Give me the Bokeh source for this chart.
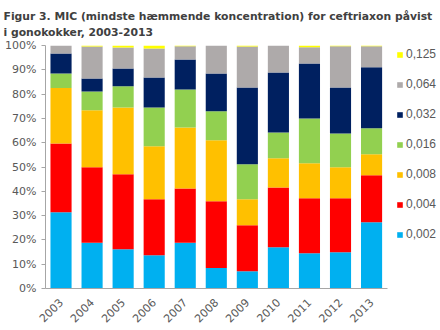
import math
from bokeh.plotting import figure
from bokeh.models import Range1d, NumeralTickFormatter, Legend, LegendItem, Title, FixedTicker
from bokeh.embed import file_html
from bokeh.resources import INLINE

years = ["2003", "2004", "2005", "2006", "2007", "2008", "2009", "2010", "2011", "2012", "2013"]
mic_labels = ["0,002", "0,004", "0,008", "0,016", "0,032", "0,064", "0,125"]
v0002 = [31.4, 18.8, 16.2, 13.7, 18.8, 8.4, 7.1, 17.0, 14.5, 14.9, 27.3]
v0004 = [28.3, 31.1, 30.8, 23.0, 22.4, 27.5, 18.9, 24.6, 22.6, 22.2, 19.3]
v0008 = [22.8, 23.5, 27.5, 21.8, 25.1, 25.1, 10.7, 12.0, 14.4, 12.8, 8.6]
v0016 = [6.0, 7.7, 8.7, 16.0, 15.6, 11.9, 14.4, 10.6, 18.5, 13.9, 10.7]
v0032 = [8.2, 5.3, 7.3, 12.3, 12.3, 15.6, 31.6, 24.7, 22.6, 18.9, 25.1]
v0064 = [3.3, 13.2, 8.7, 12.0, 5.5, 11.5, 16.9, 11.1, 6.7, 17.0, 8.7]
v0125 = [0.0, 0.4, 0.8, 1.2, 0.3, 0.0, 0.4, 0.0, 0.7, 0.3, 0.3]
colors = ["#00B0F0", "#FF0000", "#FFC000", "#92D050", "#002060", "#AEAAAA", "#FFFF00"]
title_text = "Figur 3. MIC (mindste hæmmende koncentration) for ceftriaxon påvist\ni gonokokker, 2003-2013"

series = [v0002, v0004, v0008, v0016, v0032, v0064, v0125]
keys = ["s%d" % i for i in range(len(series))]
xpos = list(range(len(years)))
data = {"x": xpos}
for k, s in zip(keys, series):
    data[k] = [v / 100.0 for v in s]

n = len(years)
p = figure(width=440, height=330, output_backend="svg", toolbar_location=None,
           x_range=Range1d(-0.5, n - 0.5 + 1.72), y_range=Range1d(0, 1))
p.min_border_left = 45
p.min_border_right = 0
p.min_border_top = 45
p.min_border_bottom = 42
p.outline_line_color = None
p.background_fill_color = "white"
p.border_fill_color = "white"

rs = p.vbar_stack(keys, x="x", width=0.68, color=colors, line_color=None, source=data)

p.xgrid.visible = False
p.ygrid.visible = False

p.yaxis.ticker = FixedTicker(ticks=[i / 10 for i in range(11)])
p.yaxis.formatter = NumeralTickFormatter(format="0%")
p.xaxis.ticker = FixedTicker(ticks=xpos)
p.xaxis.major_label_overrides = {i: y for i, y in zip(xpos, years)}
p.xaxis.bounds = (-0.5 - 0.13, n - 0.5)
for ax in (p.xaxis, p.yaxis):
    ax.axis_line_color = "#A6A6A6"
    ax.major_label_text_font = "DejaVu Sans"
    ax.major_label_text_font_size = "11px"
    ax.major_label_text_color = "#595959"
    ax.minor_tick_line_color = None
p.yaxis.major_tick_line_color = "#A6A6A6"
p.yaxis.major_tick_out = 4
p.yaxis.major_tick_in = 0
p.yaxis.major_label_standoff = 5
p.xaxis.major_tick_line_color = None
p.xaxis.major_label_orientation = math.pi / 4
p.xaxis.major_label_standoff = 6

items = [LegendItem(label=lab, renderers=[r]) for lab, r in zip(mic_labels, rs)][::-1]
legend = Legend(items=items, location=(351, 47), orientation="vertical")
legend.margin = 0
legend.padding = 0
legend.border_line_color = None
legend.background_fill_alpha = 0
legend.glyph_width = 7
legend.glyph_height = 7
legend.label_height = 12
legend.spacing = 16
legend.label_standoff = 3
legend.label_text_font = "Liberation Sans"
legend.label_text_font_size = "12px"
legend.label_text_color = "#595959"
p.add_layout(legend, "center")

p.title = Title(text=title_text, align="left", offset=-42,
                text_font="DejaVu Sans", text_font_size="10.8px", text_font_style="bold",
                text_color="#404040", text_line_height=1.25, standoff=13)

open("out.html", "w").write(file_html(p, INLINE))
